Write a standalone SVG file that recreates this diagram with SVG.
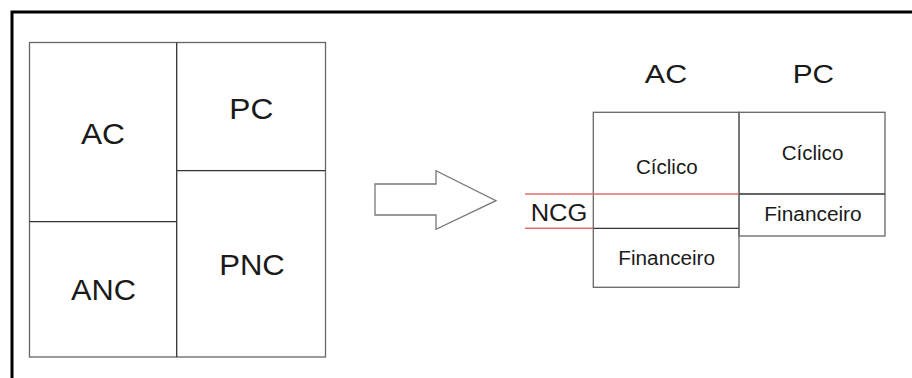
<svg xmlns="http://www.w3.org/2000/svg" width="912" height="378" viewBox="0 0 912 378">
<style>
.frame{stroke:#000;stroke-width:3;fill:none}
.box{fill:none;stroke:#666;stroke-width:1.3}
.div{stroke:#333;stroke-width:1.3;fill:none}
.red{stroke:#e07070;stroke-width:1.5;fill:none}
text{font-family:"Liberation Sans",Arial,sans-serif;fill:#1a1a1a;text-anchor:middle}
.big{font-size:29px}
.hdr{font-size:25px}
.sm{font-size:20px}
</style>
<rect width="912" height="378" fill="#fff"/>
<path class="frame" d="M12 378 V12 H912"/>
<g id="balance">
  <rect class="box" x="29.5" y="42.5" width="296" height="314.5"/>
  <path class="div" d="M176.7 42.5 V357 M29.5 221.7 H176.7 M176.7 170.7 H325.5"/>
</g>
<g id="ac-left"><text class="big" x="103" y="144" textLength="44" lengthAdjust="spacingAndGlyphs">AC</text></g>
<g id="pc-left"><text class="big" x="251.3" y="119.3" textLength="44" lengthAdjust="spacingAndGlyphs">PC</text></g>
<g id="anc-left"><text class="big" x="103.5" y="300" textLength="65" lengthAdjust="spacingAndGlyphs">ANC</text></g>
<g id="pnc-left"><text class="big" x="252" y="275" textLength="65.7" lengthAdjust="spacingAndGlyphs">PNC</text></g>
<g id="connectors">
  <path d="M375 184 H436 V170.7 L496 200.7 L436 229.3 V215 H375 Z" fill="#fff" stroke="#777" stroke-width="1.3"/>
</g>
<g id="ac-right">
  <text class="hdr" x="666" y="83" textLength="42.3" lengthAdjust="spacingAndGlyphs">AC</text>
  <rect class="box" x="593.3" y="112.3" width="145.7" height="175"/>
  <path class="div" d="M593.3 228.3 H739"/>
  <text class="sm" x="666.8" y="174" textLength="61.7" lengthAdjust="spacingAndGlyphs">Cíclico</text>
  <text class="sm" x="666.7" y="265" textLength="96.7" lengthAdjust="spacingAndGlyphs">Financeiro</text>
</g>
<g id="pc-right">
  <text class="hdr" x="813.3" y="83" textLength="41.3" lengthAdjust="spacingAndGlyphs">PC</text>
  <rect class="box" x="739" y="112.3" width="146" height="123.7"/>
  <path class="div" d="M739 194 H885"/>
  <text class="sm" x="812.5" y="160" textLength="61.7" lengthAdjust="spacingAndGlyphs">Cíclico</text>
  <text class="sm" x="813" y="220.7" textLength="97.3" lengthAdjust="spacingAndGlyphs">Financeiro</text>
</g>
<g id="ncg">
  <path class="red" d="M525 194 H739 M525 228.3 H593.3"/>
  <text x="559" y="220.7" font-size="23" textLength="56.7" lengthAdjust="spacingAndGlyphs">NCG</text>
</g>
</svg>
